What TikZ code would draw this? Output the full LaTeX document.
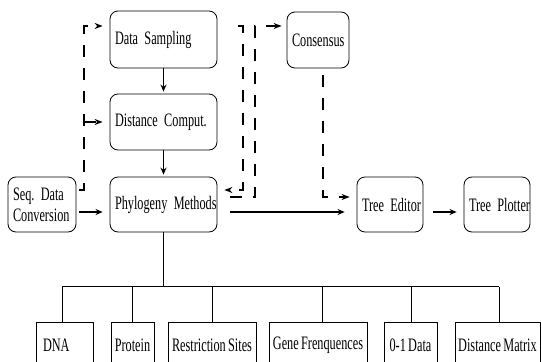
\documentclass[tikz,border=0pt]{standalone}
\usepackage{fontspec}
\setmainfont{Liberation Serif}[FakeStretch=0.645,WordSpace=0.75]
\usetikzlibrary{arrows.meta,calc}
\frenchspacing
\begin{document}
\begin{tikzpicture}[x=1pt,y=-1pt,
  every node/.style={font=\fontsize{19}{21}\selectfont},
  rbox/.style={draw, line width=0.8pt, rounded corners=8pt, inner xsep=5pt, inner ysep=0pt, align=left},
  sbox/.style={draw, line width=0.8pt, inner xsep=0pt, inner ysep=0pt, align=center, minimum height=46pt},
  tline/.style={line width=0.9pt},
  sarrow/.style={line width=1.4pt, -{Stealth[length=7pt,width=6pt]}},
  darrow/.style={line width=2pt, dash pattern=on 12pt off 11pt, -{Stealth[length=8pt,width=6pt]}}]
\useasboundingbox (0,0) rectangle (542,362);
\clip (0,0) rectangle (542,362);

% upper boxes
\node[rbox, text width=97pt, minimum height=57pt] (ds) at (163.5,39.5) {\mbox{Data Sampling}};
\node[rbox, text width=97pt, minimum height=56pt] (dc) at (163.5,122) {\mbox{Distance Comput.}};
\node[rbox, text width=97pt, minimum height=55pt] (pm) at (163.5,204.5) {\mbox{Phylogeny Methods}};
\node[rbox, text width=58pt, minimum height=55pt] (seq) at (42,204.5) {\mbox{Seq. Data}\\\mbox{Conversion}};
\node[rbox, text width=52pt, minimum height=56pt] (cons) at (318,40) {\mbox{Consensus}};
\node[rbox, text width=56pt, minimum height=55pt] (te) at (390,204.5) {\mbox{Tree Editor}};
\node[rbox, text width=56pt, minimum height=55pt] (tp) at (497,204.5) {\mbox{Tree Plotter}};

% lower boxes
\node[sbox, align=left, text width=43pt, inner xsep=7pt] (dna) at (64.5,345) {DNA};
\node[sbox, minimum width=43pt] (prot) at (132.5,345) {Protein};
\node[sbox, minimum width=88pt] (rs) at (212,345) {Restriction Sites};
\node[sbox, minimum width=98pt] (gf) at (318,345) {Gene Frenquences};
\node[sbox, minimum width=53pt] (od) at (410.5,345) {0-1 Data};
\node[sbox, minimum width=85pt] (dm) at (497.5,345) {Distance Matrix};

% tree
\draw[tline] (pm.south) -- ++(0,55);
\draw[tline] ($(dna.north)+(-2.5,-35)$) -- ($(dm.north)+(1.5,-35)$);
\draw[tline] ($(dna.north)+(-2.5,0)$) -- ++(0,-35);
\draw[tline] ($(prot.north)+(-0.5,0)$) -- ++(0,-35);
\draw[tline] (rs.north) -- ++(0,-35);
\draw[tline] ($(gf.north)+(4,0)$) -- ++(0,-35);
\draw[tline] ($(od.north)+(0.5,0)$) -- ++(0,-35);
\draw[tline] ($(dm.north)+(1.5,0)$) -- ++(0,-35);

% solid arrows
\draw[sarrow, shorten <=3pt, shorten >=7pt] ([yshift=-7.5pt]seq.east) -- ([yshift=-7.5pt]pm.west);
\draw[sarrow, shorten >=2pt] (ds) -- (dc);
\draw[sarrow, shorten >=2pt] (dc) -- (pm);
\draw[sarrow, line width=2.4pt, shorten <=13pt, shorten >=12pt] ([yshift=-7.5pt]pm.east) -- ([yshift=-7.5pt]te.west);
\draw[sarrow, shorten <=10pt, shorten >=7pt] ([yshift=-7.5pt]te.east) -- ([yshift=-7.5pt]tp.west);

% dashed arrows
\draw[darrow, shorten <=3pt, shorten >=7pt] ([yshift=14.5pt]seq.east) -- ++(8,0) |- ([yshift=13.5pt]ds.west);
\coordinate (lb) at (84,122);
\draw[darrow, shorten >=7pt] (lb) -- (dc.west);
\draw[darrow, shorten <=21pt, shorten >=7pt] ([yshift=13.5pt]ds.east) -- ++(26,0) |- ([yshift=14.5pt]pm.east);
\draw[darrow, shorten <=13pt, shorten >=5pt] ([yshift=7.5pt]pm.east) -- ++(38,0) |- ([yshift=14pt]cons.west);
\draw[darrow, shorten <=7pt, shorten >=7pt] ([xshift=5pt]cons.south) |- ([yshift=7.5pt]te.west);
\end{tikzpicture}
\end{document}
